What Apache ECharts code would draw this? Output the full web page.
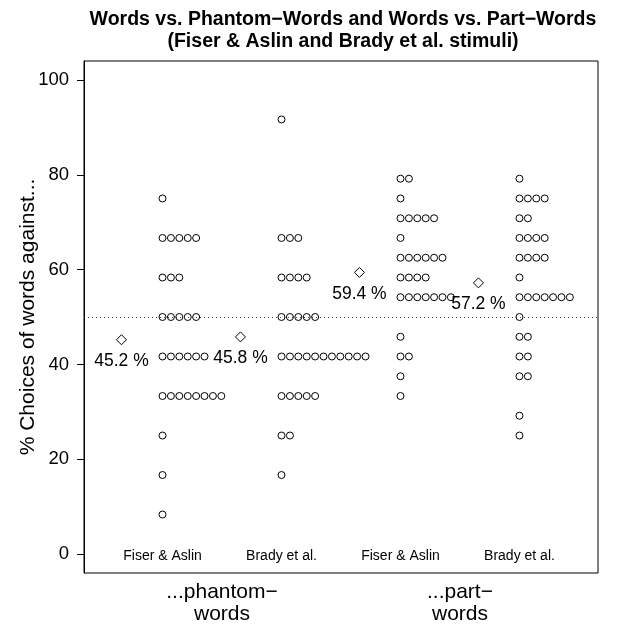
<!DOCTYPE html>
<html>
<head>
<meta charset="utf-8">
<script src="https://cdn.jsdelivr.net/npm/echarts@6/dist/echarts.min.js"></script>
<style>html,body{margin:0;padding:0;background:#fff}#c{width:638px;height:630px}</style>
</head>
<body>
<div id="c"></div>
<script>
// ---- data (percent choices of words) ----
const groupNames = ['Fiser & Aslin', 'Brady et al.', 'Fiser & Aslin', 'Brady et al.'];
const fiserPhantom = [75, 66.67, 66.67, 66.67, 66.67, 66.67, 58.33, 58.33, 58.33, 50, 50, 50, 50, 50,
  41.67, 41.67, 41.67, 41.67, 41.67, 41.67, 33.33, 33.33, 33.33, 33.33, 33.33, 33.33, 33.33, 33.33, 25, 16.67, 8.33];
const bradyPhantom = [91.67, 66.67, 66.67, 66.67, 58.33, 58.33, 58.33, 58.33, 50, 50, 50, 50, 50,
  41.67, 41.67, 41.67, 41.67, 41.67, 41.67, 41.67, 41.67, 41.67, 41.67, 41.67,
  33.33, 33.33, 33.33, 33.33, 33.33, 25, 25, 16.67];
const fiserPart = [79.17, 79.17, 75, 70.83, 70.83, 70.83, 70.83, 70.83, 66.67, 62.5, 62.5, 62.5, 62.5, 62.5, 62.5,
  58.33, 58.33, 58.33, 58.33, 54.17, 54.17, 54.17, 54.17, 54.17, 54.17, 54.17, 45.83, 41.67, 41.67, 37.5, 33.33];
const bradyPart = [79.17, 75, 75, 75, 75, 70.83, 70.83, 66.67, 66.67, 66.67, 66.67, 62.5, 62.5, 62.5, 62.5,
  58.33, 54.17, 54.17, 54.17, 54.17, 54.17, 54.17, 54.17, 50, 45.83, 45.83, 41.67, 41.67, 37.5, 37.5, 29.17, 25];
const groupMeans = [45.2, 45.8, 59.4, 57.2];
const conditionLabels = ['...phantom\u2212\nwords', '...part\u2212\nwords'];
const conditionPos = [1.5, 3.5];
const yTicks = [0, 20, 40, 60, 80, 100];

const groups = [fiserPhantom, bradyPhantom, fiserPart, bradyPart];
const STEP = 0.0706;   // horizontal stacking step (x units)
const MEAN_OFFSET = 0.345;
const FONT = '"Liberation Sans", Arial, Helvetica, sans-serif';

// stacked strip chart positions
const stripSeries = groups.map((vals, gi) => {
  const counts = {};
  const pts = vals.map(v => {
    const k = counts[v] || 0;
    counts[v] = k + 1;
    return [gi + 1 + k * STEP, v];
  });
  return {
    type: 'scatter', data: pts, symbol: 'circle', symbolSize: 7,
    itemStyle: { color: '#fff', borderColor: '#000', borderWidth: 1, opacity: 1 },
    silent: true, z: 3
  };
});

const meanSeries = {
  type: 'scatter',
  data: groupMeans.map((m, i) => [i + 1 - MEAN_OFFSET, m]),
  symbol: 'diamond', symbolSize: [10, 10],
  itemStyle: { color: '#fff', borderColor: '#000', borderWidth: 1, opacity: 1 },
  label: {
    show: true, position: 'bottom', distance: 7,
    formatter: p => p.value[1].toFixed(1) + ' %',
    fontFamily: FONT, fontSize: 17.5, color: '#000'
  },
  z: 4, silent: true
};

const nameSeries = {
  type: 'scatter',
  data: groupNames.map((n, i) => [i + 1, -0.4]),
  symbolSize: 0,
  itemStyle: { opacity: 1 },
  label: {
    show: true, position: 'inside',
    formatter: p => groupNames[p.dataIndex],
    fontFamily: FONT, fontSize: 14, color: '#000'
  },
  silent: true, z: 4
};

const refLine = {
  type: 'line', data: [],
  markLine: {
    silent: true, symbol: ['none', 'none'], label: { show: false },
    lineStyle: { type: [1, 3], color: '#444', width: 1 },
    data: [{ yAxis: 50 }]
  }
};

const chart = echarts.init(document.getElementById('c'), null, { renderer: 'canvas' });
chart.setOption({
  animation: false,
  backgroundColor: '#fff',
  title: {
    text: 'Words vs. Phantom\u2212Words and Words vs. Part\u2212Words\n(Fiser & Aslin and Brady et al. stimuli)',
    left: 338, top: 4, textAlign: 'center',
    textStyle: { fontFamily: FONT, fontSize: 19.5, fontWeight: 'bold', color: '#000', lineHeight: 22 }
  },
  grid: { left: 84, top: 61, right: 40, bottom: 57, outerBoundsMode: 'none', containLabel: false,
    show: true, borderColor: '#000', borderWidth: 1, backgroundColor: 'transparent' },
  xAxis: {
    type: 'value', min: 0.34, max: 4.66,
    splitLine: { show: false }, axisLine: { show: false }, axisTick: { show: false },
    axisLabel: {
      customValues: conditionPos,
      formatter: v => conditionLabels[conditionPos.indexOf(v)] || '',
      fontFamily: FONT, fontSize: 21, color: '#000', lineHeight: 22, margin: 8
    }
  },
  yAxis: {
    type: 'value', min: -4, max: 104,
    name: '% Choices of words against...', nameLocation: 'middle', nameRotate: 90, nameGap: 45,
    nameMoveOverlap: false,
    nameTextStyle: { fontFamily: FONT, fontSize: 21, color: '#000' },
    splitLine: { show: false },
    axisLine: { show: true, lineStyle: { color: '#000', width: 1 } },
    axisTick: { show: true, length: 7, customValues: yTicks, lineStyle: { color: '#000' } },
    axisLabel: { customValues: yTicks, fontFamily: FONT, fontSize: 18.5, color: '#000', margin: 15 }
  },
  series: [refLine, ...stripSeries, meanSeries, nameSeries]
});
</script>
</body>
</html>
